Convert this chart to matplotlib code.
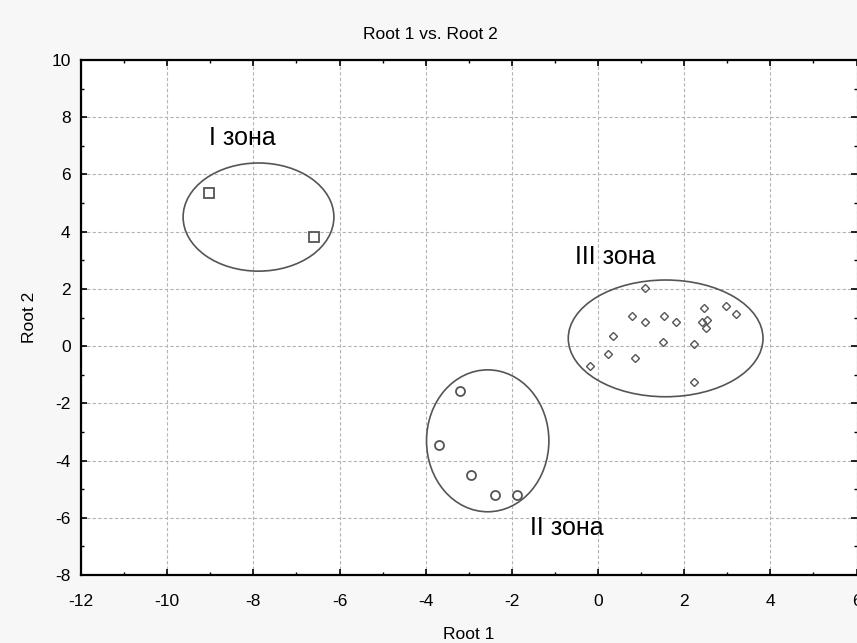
import matplotlib
matplotlib.use("Agg")
import matplotlib.pyplot as plt
from matplotlib.patches import Ellipse
from matplotlib.ticker import MultipleLocator

plt.rcParams['font.family'] = ['Liberation Sans', 'DejaVu Sans']
plt.rcParams['axes.unicode_minus'] = False

# Data
zone1_x = [-9.04, -6.59]
zone1_y = [5.36, 3.82]
zone2_x = [-3.21, -3.68, -2.94, -2.38, -1.87]
zone2_y = [-1.57, -3.46, -4.51, -5.20, -5.20]
zone3_x = [1.08, 2.46, 2.97, 3.21, 0.80, 1.54, 1.08, 1.81, 2.42, 2.52, 2.51,
           0.34, 1.50, 2.23, 0.24, 0.85, -0.18, 2.23]
zone3_y = [2.04, 1.34, 1.41, 1.13, 1.06, 1.06, 0.85, 0.85, 0.85, 0.92, 0.63,
           0.36, 0.15, 0.08, -0.27, -0.41, -0.70, -1.24]

ell_cx = [-7.88, -2.56, 1.57]
ell_cy = [4.51, -3.31, 0.27]
ell_w = [3.50, 2.84, 4.52]
ell_h = [3.78, 4.96, 4.08]

zone_labels = ["I зона", "II зона", "III зона"]
label_x = [-8.25, -0.72, 0.39]
label_y = [7.27, -6.36, 3.11]

x_ticks = [-12, -10, -8, -6, -4, -2, 0, 2, 4, 6]
y_ticks = [-8, -6, -4, -2, 0, 2, 4, 6, 8, 10]

W, H = 857, 643
fig = plt.figure(figsize=(W / 100, H / 100), dpi=100, facecolor='#f7f7f7')
ax = fig.add_axes([81 / W, 1 - 575 / H, (856.5 - 81) / W, 515 / H])
ax.set_facecolor('white')

mc = '#555555'
ax.plot(zone1_x, zone1_y, linestyle='none', marker='s', markersize=7,
        markerfacecolor='none', markeredgecolor=mc, markeredgewidth=1.3)
ax.plot(zone2_x, zone2_y, linestyle='none', marker='o', markersize=6.5,
        markerfacecolor='none', markeredgecolor=mc, markeredgewidth=1.3)
ax.plot(zone3_x, zone3_y, linestyle='none', marker='D', markersize=4.5,
        markerfacecolor='none', markeredgecolor=mc, markeredgewidth=1.0)

for cx, cy, w, h in zip(ell_cx, ell_cy, ell_w, ell_h):
    ax.add_patch(Ellipse((cx, cy), w, h, fill=False, edgecolor=mc, linewidth=1.2))

for t, x, y in zip(zone_labels, label_x, label_y):
    ax.text(x, y, t, ha='center', va='center', fontsize=18)

ax.set_xlim(-12, 6)
ax.set_ylim(-8, 10)
ax.set_xticks(x_ticks)
ax.set_yticks(y_ticks)
ax.xaxis.set_minor_locator(MultipleLocator(1))
ax.yaxis.set_minor_locator(MultipleLocator(1))
ax.grid(True, which='major', color='#b4b4b4', linestyle=(0, (3, 2)), linewidth=0.8)
ax.set_axisbelow(True)

ax.tick_params(which='both', direction='in', top=True, right=True, colors='black',
               labelsize=12.5)
ax.tick_params(which='major', length=4, width=1.2)
ax.tick_params(which='minor', length=2.5, width=1.0)
ax.tick_params(axis='x', which='major', pad=13.5)
ax.tick_params(axis='y', which='major', pad=7.5)

for s in ['left', 'bottom', 'top']:
    ax.spines[s].set_linewidth(1.6)
ax.spines['right'].set_linewidth(0.8)
ax.spines['right'].set_color('#888888')

ax.set_title("Root 1 vs. Root 2", fontsize=12.5, pad=15, x=0.45)
ax.set_xlabel("Root 1", fontsize=12.5, labelpad=13)
ax.set_ylabel("Root 2", fontsize=12.5, labelpad=10)

fig.savefig("out.png", dpi=100, facecolor=fig.get_facecolor())
